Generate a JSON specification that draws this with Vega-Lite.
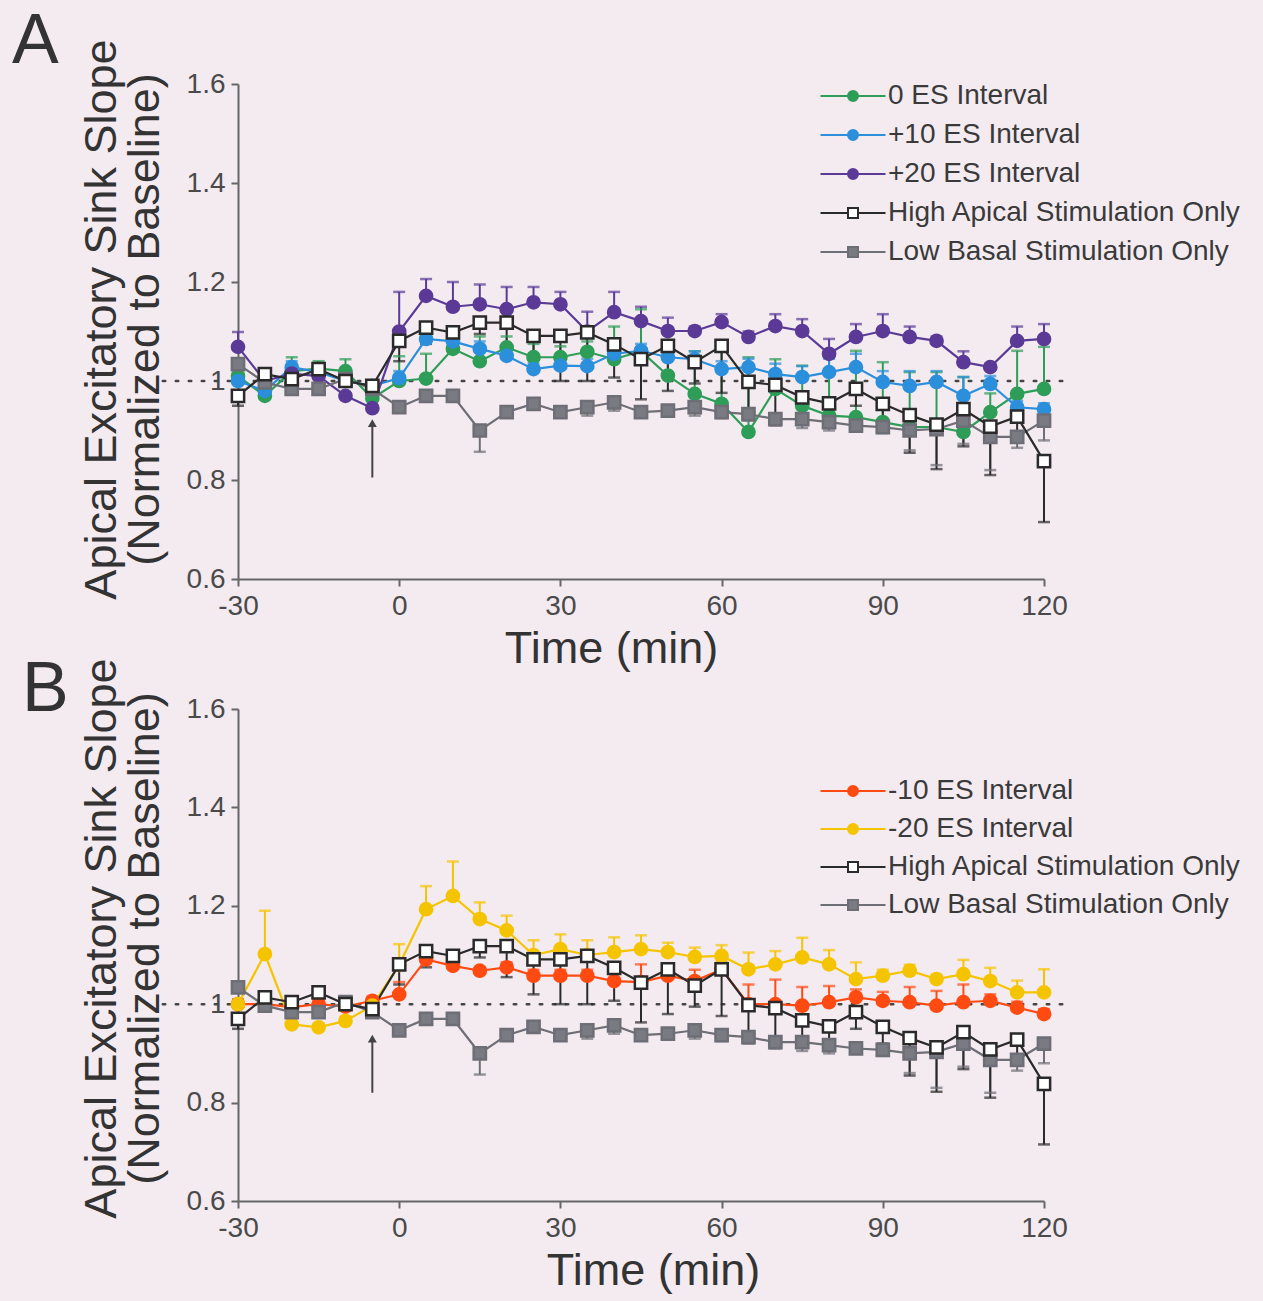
{
"$schema": "https://vega.github.io/schema/vega-lite/v6.json",
"background": "#f4ebf1",
"padding": {"left": 12, "top": 6, "right": 22, "bottom": 8},
"spacing": 130,
"bounds": "flush",
"config": {
  "font": "Liberation Sans",
  "view": {"stroke": null},
  "axis": {"domainColor": "#666666", "domainWidth": 2, "tickColor": "#666666", "tickWidth": 2, "tickSize": 7, "labelFont": "Liberation Sans", "labelFontSize": 28, "labelColor": "#4a4a4a", "labelFlush": false, "titleFont": "Liberation Sans", "titleFontSize": 45, "titleFontWeight": "normal", "titleColor": "#333333", "grid": false},
  "legend": {"orient": "none", "padding": 0, "labelFont": "Liberation Sans", "labelFontSize": 28, "labelColor": "#3a3a3a", "labelOffset": 21, "symbolSize": 100, "symbolStrokeWidth": 2, "labelLimit": 600}
},
"resolve": {"scale": {"shape": "independent", "fill": "independent", "stroke": "independent", "color": "independent"}, "legend": {"shape": "independent", "fill": "independent", "stroke": "independent", "color": "independent"}},
"datasets": {
"A": [
{"s":"0 ES Interval","t":-30,"v":1.01,"e":1.03},{"s":"0 ES Interval","t":-25,"v":0.97,"e":0.985},{"s":"0 ES Interval","t":-20,"v":1.02,"e":1.048},{"s":"0 ES Interval","t":-15,"v":1.025,"e":1.04},{"s":"0 ES Interval","t":-10,"v":1.02,"e":1.044},{"s":"0 ES Interval","t":-5,"v":0.965,"e":0.98},{"s":"0 ES Interval","t":0,"v":1.0,"e":1.05},{"s":"0 ES Interval","t":5,"v":1.005,"e":1.055},{"s":"0 ES Interval","t":10,"v":1.065,"e":1.1},{"s":"0 ES Interval","t":15,"v":1.04,"e":1.09},{"s":"0 ES Interval","t":20,"v":1.068,"e":1.09},{"s":"0 ES Interval","t":25,"v":1.048,"e":1.075},{"s":"0 ES Interval","t":30,"v":1.048,"e":1.07},{"s":"0 ES Interval","t":35,"v":1.059,"e":1.08},{"s":"0 ES Interval","t":40,"v":1.044,"e":1.11},{"s":"0 ES Interval","t":45,"v":1.06,"e":1.145},{"s":"0 ES Interval","t":50,"v":1.011,"e":1.05},{"s":"0 ES Interval","t":55,"v":0.974,"e":1.06},{"s":"0 ES Interval","t":60,"v":0.954,"e":1.06},{"s":"0 ES Interval","t":65,"v":0.897,"e":1.048},{"s":"0 ES Interval","t":70,"v":0.984,"e":1.044},{"s":"0 ES Interval","t":75,"v":0.95,"e":1.031},{"s":"0 ES Interval","t":80,"v":0.93,"e":1.061},{"s":"0 ES Interval","t":85,"v":0.927,"e":1.061},{"s":"0 ES Interval","t":90,"v":0.917,"e":1.038},{"s":"0 ES Interval","t":95,"v":0.907,"e":1.018},{"s":"0 ES Interval","t":100,"v":0.907,"e":1.018},{"s":"0 ES Interval","t":105,"v":0.897,"e":1.008},{"s":"0 ES Interval","t":110,"v":0.937,"e":0.975},{"s":"0 ES Interval","t":115,"v":0.974,"e":1.061},{"s":"0 ES Interval","t":120,"v":0.984,"e":1.069},
{"s":"+10 ES Interval","t":-30,"v":1.0,"e":1.01},{"s":"+10 ES Interval","t":-25,"v":0.98,"e":0.99},{"s":"+10 ES Interval","t":-20,"v":1.028,"e":1.04},{"s":"+10 ES Interval","t":-15,"v":1.018,"e":1.03},{"s":"+10 ES Interval","t":-10,"v":1.0,"e":1.01},{"s":"+10 ES Interval","t":-5,"v":0.99,"e":1.0},{"s":"+10 ES Interval","t":0,"v":1.006,"e":1.02},{"s":"+10 ES Interval","t":5,"v":1.085,"e":1.095},{"s":"+10 ES Interval","t":10,"v":1.08,"e":1.09},{"s":"+10 ES Interval","t":15,"v":1.065,"e":1.08},{"s":"+10 ES Interval","t":20,"v":1.051,"e":1.065},{"s":"+10 ES Interval","t":25,"v":1.024,"e":1.035},{"s":"+10 ES Interval","t":30,"v":1.031,"e":1.045},{"s":"+10 ES Interval","t":35,"v":1.03,"e":1.045},{"s":"+10 ES Interval","t":40,"v":1.055,"e":1.07},{"s":"+10 ES Interval","t":45,"v":1.061,"e":1.075},{"s":"+10 ES Interval","t":50,"v":1.048,"e":1.065},{"s":"+10 ES Interval","t":55,"v":1.044,"e":1.06},{"s":"+10 ES Interval","t":60,"v":1.024,"e":1.04},{"s":"+10 ES Interval","t":65,"v":1.028,"e":1.045},{"s":"+10 ES Interval","t":70,"v":1.014,"e":1.035},{"s":"+10 ES Interval","t":75,"v":1.008,"e":1.03},{"s":"+10 ES Interval","t":80,"v":1.018,"e":1.045},{"s":"+10 ES Interval","t":85,"v":1.028,"e":1.055},{"s":"+10 ES Interval","t":90,"v":0.998,"e":1.02},{"s":"+10 ES Interval","t":95,"v":0.99,"e":1.02},{"s":"+10 ES Interval","t":100,"v":0.998,"e":1.02},{"s":"+10 ES Interval","t":105,"v":0.97,"e":1.008},{"s":"+10 ES Interval","t":110,"v":0.994,"e":1.01},{"s":"+10 ES Interval","t":115,"v":0.947,"e":0.96},{"s":"+10 ES Interval","t":120,"v":0.943,"e":0.955},
{"s":"+20 ES Interval","t":-30,"v":1.069,"e":1.099},{"s":"+20 ES Interval","t":-25,"v":1.0,"e":1.005},{"s":"+20 ES Interval","t":-20,"v":1.015,"e":1.02},{"s":"+20 ES Interval","t":-15,"v":1.01,"e":1.015},{"s":"+20 ES Interval","t":-10,"v":0.97,"e":0.975},{"s":"+20 ES Interval","t":-5,"v":0.945,"e":0.95},{"s":"+20 ES Interval","t":0,"v":1.1,"e":1.18},{"s":"+20 ES Interval","t":5,"v":1.172,"e":1.206},{"s":"+20 ES Interval","t":10,"v":1.15,"e":1.2},{"s":"+20 ES Interval","t":15,"v":1.155,"e":1.195},{"s":"+20 ES Interval","t":20,"v":1.145,"e":1.19},{"s":"+20 ES Interval","t":25,"v":1.159,"e":1.19},{"s":"+20 ES Interval","t":30,"v":1.155,"e":1.18},{"s":"+20 ES Interval","t":35,"v":1.1,"e":1.14},{"s":"+20 ES Interval","t":40,"v":1.139,"e":1.18},{"s":"+20 ES Interval","t":45,"v":1.121,"e":1.15},{"s":"+20 ES Interval","t":50,"v":1.101,"e":1.128},{"s":"+20 ES Interval","t":55,"v":1.101,"e":1.11},{"s":"+20 ES Interval","t":60,"v":1.119,"e":1.135},{"s":"+20 ES Interval","t":65,"v":1.089,"e":1.1},{"s":"+20 ES Interval","t":70,"v":1.111,"e":1.135},{"s":"+20 ES Interval","t":75,"v":1.101,"e":1.125},{"s":"+20 ES Interval","t":80,"v":1.055,"e":1.085},{"s":"+20 ES Interval","t":85,"v":1.089,"e":1.115},{"s":"+20 ES Interval","t":90,"v":1.101,"e":1.135},{"s":"+20 ES Interval","t":95,"v":1.089,"e":1.11},{"s":"+20 ES Interval","t":100,"v":1.081,"e":1.09},{"s":"+20 ES Interval","t":105,"v":1.038,"e":1.06},{"s":"+20 ES Interval","t":110,"v":1.028,"e":1.035},{"s":"+20 ES Interval","t":115,"v":1.081,"e":1.11},{"s":"+20 ES Interval","t":120,"v":1.085,"e":1.115},
{"s":"Low Basal Stimulation Only","t":-30,"v":1.034,"e":1.03},{"s":"Low Basal Stimulation Only","t":-25,"v":0.997,"e":0.99},{"s":"Low Basal Stimulation Only","t":-20,"v":0.984,"e":0.98},{"s":"Low Basal Stimulation Only","t":-15,"v":0.984,"e":0.98},{"s":"Low Basal Stimulation Only","t":-10,"v":1.004,"e":1.0},{"s":"Low Basal Stimulation Only","t":-5,"v":0.984,"e":0.975},{"s":"Low Basal Stimulation Only","t":0,"v":0.947,"e":0.94},{"s":"Low Basal Stimulation Only","t":5,"v":0.97,"e":0.965},{"s":"Low Basal Stimulation Only","t":10,"v":0.97,"e":0.965},{"s":"Low Basal Stimulation Only","t":15,"v":0.9,"e":0.857},{"s":"Low Basal Stimulation Only","t":20,"v":0.937,"e":0.93},{"s":"Low Basal Stimulation Only","t":25,"v":0.954,"e":0.945},{"s":"Low Basal Stimulation Only","t":30,"v":0.937,"e":0.93},{"s":"Low Basal Stimulation Only","t":35,"v":0.947,"e":0.93},{"s":"Low Basal Stimulation Only","t":40,"v":0.957,"e":0.94},{"s":"Low Basal Stimulation Only","t":45,"v":0.937,"e":0.93},{"s":"Low Basal Stimulation Only","t":50,"v":0.94,"e":0.93},{"s":"Low Basal Stimulation Only","t":55,"v":0.947,"e":0.93},{"s":"Low Basal Stimulation Only","t":60,"v":0.937,"e":0.925},{"s":"Low Basal Stimulation Only","t":65,"v":0.933,"e":0.92},{"s":"Low Basal Stimulation Only","t":70,"v":0.923,"e":0.91},{"s":"Low Basal Stimulation Only","t":75,"v":0.923,"e":0.905},{"s":"Low Basal Stimulation Only","t":80,"v":0.917,"e":0.9},{"s":"Low Basal Stimulation Only","t":85,"v":0.91,"e":0.9},{"s":"Low Basal Stimulation Only","t":90,"v":0.907,"e":0.895},{"s":"Low Basal Stimulation Only","t":95,"v":0.9,"e":0.86},{"s":"Low Basal Stimulation Only","t":100,"v":0.903,"e":0.83},{"s":"Low Basal Stimulation Only","t":105,"v":0.92,"e":0.873},{"s":"Low Basal Stimulation Only","t":110,"v":0.887,"e":0.82},{"s":"Low Basal Stimulation Only","t":115,"v":0.887,"e":0.865},{"s":"Low Basal Stimulation Only","t":120,"v":0.92,"e":0.88},
{"s":"High Apical Stimulation Only","t":-30,"v":0.97,"e":0.95},{"s":"High Apical Stimulation Only","t":-25,"v":1.014,"e":1.005},{"s":"High Apical Stimulation Only","t":-20,"v":1.004,"e":0.995},{"s":"High Apical Stimulation Only","t":-15,"v":1.024,"e":1.015},{"s":"High Apical Stimulation Only","t":-10,"v":1.0,"e":0.99},{"s":"High Apical Stimulation Only","t":-5,"v":0.99,"e":0.98},{"s":"High Apical Stimulation Only","t":0,"v":1.081,"e":1.04},{"s":"High Apical Stimulation Only","t":5,"v":1.108,"e":1.075},{"s":"High Apical Stimulation Only","t":10,"v":1.098,"e":1.08},{"s":"High Apical Stimulation Only","t":15,"v":1.118,"e":1.095},{"s":"High Apical Stimulation Only","t":20,"v":1.118,"e":1.055},{"s":"High Apical Stimulation Only","t":25,"v":1.091,"e":1.02},{"s":"High Apical Stimulation Only","t":30,"v":1.091,"e":1.0},{"s":"High Apical Stimulation Only","t":35,"v":1.098,"e":1.0},{"s":"High Apical Stimulation Only","t":40,"v":1.074,"e":1.007},{"s":"High Apical Stimulation Only","t":45,"v":1.044,"e":0.963},{"s":"High Apical Stimulation Only","t":50,"v":1.071,"e":0.98},{"s":"High Apical Stimulation Only","t":55,"v":1.038,"e":0.995},{"s":"High Apical Stimulation Only","t":60,"v":1.071,"e":0.976},{"s":"High Apical Stimulation Only","t":65,"v":0.998,"e":0.93},{"s":"High Apical Stimulation Only","t":70,"v":0.992,"e":0.915},{"s":"High Apical Stimulation Only","t":75,"v":0.967,"e":0.93},{"s":"High Apical Stimulation Only","t":80,"v":0.955,"e":0.92},{"s":"High Apical Stimulation Only","t":85,"v":0.984,"e":0.95},{"s":"High Apical Stimulation Only","t":90,"v":0.954,"e":0.92},{"s":"High Apical Stimulation Only","t":95,"v":0.931,"e":0.855},{"s":"High Apical Stimulation Only","t":100,"v":0.912,"e":0.822},{"s":"High Apical Stimulation Only","t":105,"v":0.943,"e":0.868},{"s":"High Apical Stimulation Only","t":110,"v":0.908,"e":0.81},{"s":"High Apical Stimulation Only","t":115,"v":0.928,"e":0.895},{"s":"High Apical Stimulation Only","t":120,"v":0.838,"e":0.715}
],
"B": [
{"s":"-10 ES Interval","t":-30,"v":1.0,"e":1.01},{"s":"-10 ES Interval","t":-25,"v":1.0,"e":1.01},{"s":"-10 ES Interval","t":-20,"v":0.994,"e":1.0},{"s":"-10 ES Interval","t":-15,"v":1.0,"e":1.01},{"s":"-10 ES Interval","t":-10,"v":0.995,"e":1.0},{"s":"-10 ES Interval","t":-5,"v":1.007,"e":1.015},{"s":"-10 ES Interval","t":0,"v":1.02,"e":1.045},{"s":"-10 ES Interval","t":5,"v":1.091,"e":1.1},{"s":"-10 ES Interval","t":10,"v":1.078,"e":1.085},{"s":"-10 ES Interval","t":15,"v":1.068,"e":1.075},{"s":"-10 ES Interval","t":20,"v":1.075,"e":1.085},{"s":"-10 ES Interval","t":25,"v":1.058,"e":1.07},{"s":"-10 ES Interval","t":30,"v":1.058,"e":1.07},{"s":"-10 ES Interval","t":35,"v":1.058,"e":1.07},{"s":"-10 ES Interval","t":40,"v":1.047,"e":1.065},{"s":"-10 ES Interval","t":45,"v":1.045,"e":1.081},{"s":"-10 ES Interval","t":50,"v":1.058,"e":1.075},{"s":"-10 ES Interval","t":55,"v":1.047,"e":1.07},{"s":"-10 ES Interval","t":60,"v":1.071,"e":1.085},{"s":"-10 ES Interval","t":65,"v":1.0,"e":1.04},{"s":"-10 ES Interval","t":70,"v":1.0,"e":1.05},{"s":"-10 ES Interval","t":75,"v":0.997,"e":1.035},{"s":"-10 ES Interval","t":80,"v":1.004,"e":1.037},{"s":"-10 ES Interval","t":85,"v":1.014,"e":1.03},{"s":"-10 ES Interval","t":90,"v":1.007,"e":1.025},{"s":"-10 ES Interval","t":95,"v":1.004,"e":1.035},{"s":"-10 ES Interval","t":100,"v":0.997,"e":1.027},{"s":"-10 ES Interval","t":105,"v":1.004,"e":1.04},{"s":"-10 ES Interval","t":110,"v":1.007,"e":1.02},{"s":"-10 ES Interval","t":115,"v":0.993,"e":1.005},{"s":"-10 ES Interval","t":120,"v":0.98,"e":0.99},
{"s":"-20 ES Interval","t":-30,"v":1.0,"e":1.005},{"s":"-20 ES Interval","t":-25,"v":1.102,"e":1.19},{"s":"-20 ES Interval","t":-20,"v":0.959,"e":0.965},{"s":"-20 ES Interval","t":-15,"v":0.953,"e":0.96},{"s":"-20 ES Interval","t":-10,"v":0.966,"e":0.975},{"s":"-20 ES Interval","t":-5,"v":0.997,"e":1.0},{"s":"-20 ES Interval","t":0,"v":1.08,"e":1.122},{"s":"-20 ES Interval","t":5,"v":1.193,"e":1.24},{"s":"-20 ES Interval","t":10,"v":1.22,"e":1.29},{"s":"-20 ES Interval","t":15,"v":1.173,"e":1.207},{"s":"-20 ES Interval","t":20,"v":1.15,"e":1.18},{"s":"-20 ES Interval","t":25,"v":1.1,"e":1.13},{"s":"-20 ES Interval","t":30,"v":1.112,"e":1.142},{"s":"-20 ES Interval","t":35,"v":1.1,"e":1.13},{"s":"-20 ES Interval","t":40,"v":1.106,"e":1.136},{"s":"-20 ES Interval","t":45,"v":1.112,"e":1.14},{"s":"-20 ES Interval","t":50,"v":1.106,"e":1.125},{"s":"-20 ES Interval","t":55,"v":1.096,"e":1.115},{"s":"-20 ES Interval","t":60,"v":1.098,"e":1.12},{"s":"-20 ES Interval","t":65,"v":1.071,"e":1.105},{"s":"-20 ES Interval","t":70,"v":1.081,"e":1.108},{"s":"-20 ES Interval","t":75,"v":1.095,"e":1.135},{"s":"-20 ES Interval","t":80,"v":1.081,"e":1.11},{"s":"-20 ES Interval","t":85,"v":1.051,"e":1.085},{"s":"-20 ES Interval","t":90,"v":1.058,"e":1.07},{"s":"-20 ES Interval","t":95,"v":1.068,"e":1.08},{"s":"-20 ES Interval","t":100,"v":1.051,"e":1.06},{"s":"-20 ES Interval","t":105,"v":1.061,"e":1.09},{"s":"-20 ES Interval","t":110,"v":1.047,"e":1.074},{"s":"-20 ES Interval","t":115,"v":1.024,"e":1.048},{"s":"-20 ES Interval","t":120,"v":1.024,"e":1.071},
{"s":"Low Basal Stimulation Only","t":-30,"v":1.034,"e":1.03},{"s":"Low Basal Stimulation Only","t":-25,"v":0.997,"e":0.99},{"s":"Low Basal Stimulation Only","t":-20,"v":0.984,"e":0.98},{"s":"Low Basal Stimulation Only","t":-15,"v":0.984,"e":0.98},{"s":"Low Basal Stimulation Only","t":-10,"v":1.004,"e":1.0},{"s":"Low Basal Stimulation Only","t":-5,"v":0.984,"e":0.975},{"s":"Low Basal Stimulation Only","t":0,"v":0.947,"e":0.94},{"s":"Low Basal Stimulation Only","t":5,"v":0.97,"e":0.965},{"s":"Low Basal Stimulation Only","t":10,"v":0.97,"e":0.965},{"s":"Low Basal Stimulation Only","t":15,"v":0.9,"e":0.857},{"s":"Low Basal Stimulation Only","t":20,"v":0.937,"e":0.93},{"s":"Low Basal Stimulation Only","t":25,"v":0.954,"e":0.945},{"s":"Low Basal Stimulation Only","t":30,"v":0.937,"e":0.93},{"s":"Low Basal Stimulation Only","t":35,"v":0.947,"e":0.93},{"s":"Low Basal Stimulation Only","t":40,"v":0.957,"e":0.94},{"s":"Low Basal Stimulation Only","t":45,"v":0.937,"e":0.93},{"s":"Low Basal Stimulation Only","t":50,"v":0.94,"e":0.93},{"s":"Low Basal Stimulation Only","t":55,"v":0.947,"e":0.93},{"s":"Low Basal Stimulation Only","t":60,"v":0.937,"e":0.925},{"s":"Low Basal Stimulation Only","t":65,"v":0.933,"e":0.92},{"s":"Low Basal Stimulation Only","t":70,"v":0.923,"e":0.91},{"s":"Low Basal Stimulation Only","t":75,"v":0.923,"e":0.905},{"s":"Low Basal Stimulation Only","t":80,"v":0.917,"e":0.9},{"s":"Low Basal Stimulation Only","t":85,"v":0.91,"e":0.9},{"s":"Low Basal Stimulation Only","t":90,"v":0.907,"e":0.895},{"s":"Low Basal Stimulation Only","t":95,"v":0.9,"e":0.86},{"s":"Low Basal Stimulation Only","t":100,"v":0.903,"e":0.83},{"s":"Low Basal Stimulation Only","t":105,"v":0.92,"e":0.873},{"s":"Low Basal Stimulation Only","t":110,"v":0.887,"e":0.82},{"s":"Low Basal Stimulation Only","t":115,"v":0.887,"e":0.865},{"s":"Low Basal Stimulation Only","t":120,"v":0.92,"e":0.88},
{"s":"High Apical Stimulation Only","t":-30,"v":0.97,"e":0.95},{"s":"High Apical Stimulation Only","t":-25,"v":1.014,"e":1.005},{"s":"High Apical Stimulation Only","t":-20,"v":1.004,"e":0.995},{"s":"High Apical Stimulation Only","t":-15,"v":1.024,"e":1.015},{"s":"High Apical Stimulation Only","t":-10,"v":1.0,"e":0.99},{"s":"High Apical Stimulation Only","t":-5,"v":0.99,"e":0.98},{"s":"High Apical Stimulation Only","t":0,"v":1.081,"e":1.04},{"s":"High Apical Stimulation Only","t":5,"v":1.108,"e":1.075},{"s":"High Apical Stimulation Only","t":10,"v":1.098,"e":1.08},{"s":"High Apical Stimulation Only","t":15,"v":1.118,"e":1.095},{"s":"High Apical Stimulation Only","t":20,"v":1.118,"e":1.055},{"s":"High Apical Stimulation Only","t":25,"v":1.091,"e":1.02},{"s":"High Apical Stimulation Only","t":30,"v":1.091,"e":1.0},{"s":"High Apical Stimulation Only","t":35,"v":1.098,"e":1.0},{"s":"High Apical Stimulation Only","t":40,"v":1.074,"e":1.007},{"s":"High Apical Stimulation Only","t":45,"v":1.044,"e":0.963},{"s":"High Apical Stimulation Only","t":50,"v":1.071,"e":0.98},{"s":"High Apical Stimulation Only","t":55,"v":1.038,"e":0.995},{"s":"High Apical Stimulation Only","t":60,"v":1.071,"e":0.976},{"s":"High Apical Stimulation Only","t":65,"v":0.998,"e":0.93},{"s":"High Apical Stimulation Only","t":70,"v":0.992,"e":0.915},{"s":"High Apical Stimulation Only","t":75,"v":0.967,"e":0.93},{"s":"High Apical Stimulation Only","t":80,"v":0.955,"e":0.92},{"s":"High Apical Stimulation Only","t":85,"v":0.984,"e":0.95},{"s":"High Apical Stimulation Only","t":90,"v":0.954,"e":0.92},{"s":"High Apical Stimulation Only","t":95,"v":0.931,"e":0.855},{"s":"High Apical Stimulation Only","t":100,"v":0.912,"e":0.822},{"s":"High Apical Stimulation Only","t":105,"v":0.943,"e":0.868},{"s":"High Apical Stimulation Only","t":110,"v":0.908,"e":0.81},{"s":"High Apical Stimulation Only","t":115,"v":0.928,"e":0.895},{"s":"High Apical Stimulation Only","t":120,"v":0.838,"e":0.715}
]
},
"vconcat": [
{
 "width": 806, "height": 495,
 "title": {"text": "A", "anchor": "start", "frame": "group", "fontSize": 70, "fontWeight": "normal", "color": "#333333", "font": "Liberation Sans", "dx": -226, "dy": 39, "offset": 0},
 "data": {"name": "A"},
 "layer": [
  {"data": {"values": [{}]}, "mark": {"type": "rule", "strokeDash": [2.5, 10.5], "strokeWidth": 2.5, "color": "#444444", "strokeCap": "round"},
   "encoding": {"x": {"datum": -44, "type": "quantitative", "scale": {"domain": [-30, 120], "nice": false, "zero": false}}, "x2": {"datum": 125}, "y": {"datum": 1, "type": "quantitative", "scale": {"domain": [0.6, 1.6], "nice": false, "zero": false}}}},
  {"data": {"values": [{}]}, "mark": {"type": "rule", "strokeWidth": 2, "color": "#444444"},
   "encoding": {"x": {"datum": -5, "type": "quantitative"}, "y": {"datum": 0.805, "type": "quantitative"}, "y2": {"datum": 0.91}}},
  {"data": {"values": [{}]}, "mark": {"type": "point", "shape": "triangle-up", "filled": true, "size": 80, "color": "#444444", "opacity": 1},
   "encoding": {"x": {"datum": -5, "type": "quantitative"}, "y": {"datum": 0.915, "type": "quantitative"}}},
  {"mark": {"type": "rule", "strokeWidth": 2},
   "encoding": {"x": {"field": "t", "type": "quantitative"}, "y": {"field": "v", "type": "quantitative"}, "y2": {"field": "e"},
    "color": {"field": "s", "type": "nominal", "legend": null, "scale": {"domain": ["+10 ES Interval", "+20 ES Interval", "0 ES Interval", "High Apical Stimulation Only", "Low Basal Stimulation Only"], "range": ["#2b8fdc", "#5a3a96", "#2e9d58", "#2a2a2a", "#6e6e76"]}}}},
  {"mark": {"type": "tick", "orient": "horizontal", "size": 12, "thickness": 2.5},
   "encoding": {"x": {"field": "t", "type": "quantitative"}, "y": {"field": "e", "type": "quantitative"}, "color": {"field": "s", "type": "nominal", "legend": null}}},
  {"mark": {"type": "line", "strokeWidth": 2.2},
   "encoding": {
    "x": {"field": "t", "type": "quantitative", "axis": {"values": [-30, 0, 30, 60, 90, 120], "labelExpr": "datum.value", "title": "Time (min)", "labelPadding": 6, "titlePadding": 6, "titleX": 373}},
    "y": {"field": "v", "type": "quantitative", "axis": {"values": [0.6, 0.8, 1, 1.2, 1.4, 1.6], "labelExpr": "datum.value", "title": ["Apical Excitatory Sink Slope", "(Normalized to Baseline)"], "titleLineHeight": 43, "labelPadding": 6, "titlePadding": 19, "titleY": 235}},
    "color": {"field": "s", "type": "nominal", "legend": null}}},
  {"transform": [{"filter": {"field": "s", "oneOf": ["0 ES Interval", "+10 ES Interval", "+20 ES Interval"]}}],
   "mark": {"type": "point", "filled": true, "size": 150, "strokeWidth": 2.5, "opacity": 1},
   "encoding": {
    "x": {"field": "t", "type": "quantitative"}, "y": {"field": "v", "type": "quantitative"},
    "fill": {"field": "s", "type": "nominal", "scale": {"domain": ["0 ES Interval", "+10 ES Interval", "+20 ES Interval", "High Apical Stimulation Only", "Low Basal Stimulation Only"], "range": ["#2e9d58", "#2b8fdc", "#5a3a96", "#ffffff", "#7a7a82"]}},
    "stroke": {"field": "s", "type": "nominal", "scale": {"domain": ["0 ES Interval", "+10 ES Interval", "+20 ES Interval", "High Apical Stimulation Only", "Low Basal Stimulation Only"], "range": ["#2e9d58", "#2b8fdc", "#5a3a96", "#2a2a2a", "#6e6e76"]}}}},
  {"transform": [{"filter": {"field": "s", "oneOf": ["High Apical Stimulation Only", "Low Basal Stimulation Only"]}}],
   "mark": {"type": "point", "shape": "square", "filled": true, "size": 150, "strokeWidth": 2.5, "opacity": 1},
   "encoding": {
    "x": {"field": "t", "type": "quantitative"}, "y": {"field": "v", "type": "quantitative"},
    "fill": {"field": "s", "type": "nominal"},
    "stroke": {"field": "s", "type": "nominal"}}},
  {"transform": [{"filter": "false"}],
   "mark": {"type": "point", "filled": true, "size": 100, "strokeWidth": 2, "opacity": 1},
   "encoding": {
    "x": {"field": "t", "type": "quantitative"}, "y": {"field": "v", "type": "quantitative"},
    "fill": {"field": "s", "type": "nominal"},
    "stroke": {"field": "s", "type": "nominal"},
    "shape": {"field": "s", "type": "nominal",
     "scale": {"domain": ["0 ES Interval", "+10 ES Interval", "+20 ES Interval", "High Apical Stimulation Only", "Low Basal Stimulation Only"], "range": ["M-6.5,0H-1M1,0H6.5M-1,0A1,1,0,1,1,1,0A1,1,0,1,1,-1,0Z", "M-6.5,0H-1M1,0H6.5M-1,0A1,1,0,1,1,1,0A1,1,0,1,1,-1,0Z", "M-6.5,0H-1M1,0H6.5M-1,0A1,1,0,1,1,1,0A1,1,0,1,1,-1,0Z", "M-6.5,0H-1M1,0H6.5M-1,-1H1V1H-1Z", "M-6.5,0H-1M1,0H6.5M-1,-1H1V1H-1Z"]},
     "legend": {"title": null, "legendX": 601, "legendY": -2, "rowPadding": 11}}}}
 ]
},
{
 "width": 806, "height": 492,
 "title": {"text": "B", "anchor": "start", "frame": "group", "fontSize": 70, "fontWeight": "normal", "color": "#333333", "font": "Liberation Sans", "dx": -216, "dy": 68, "offset": 0},
 "data": {"name": "B"},
 "layer": [
  {"data": {"values": [{}]}, "mark": {"type": "rule", "strokeDash": [2.5, 10.5], "strokeWidth": 2.5, "color": "#444444", "strokeCap": "round"},
   "encoding": {"x": {"datum": -44, "type": "quantitative", "scale": {"domain": [-30, 120], "nice": false, "zero": false}}, "x2": {"datum": 125}, "y": {"datum": 1, "type": "quantitative", "scale": {"domain": [0.6, 1.6], "nice": false, "zero": false}}}},
  {"data": {"values": [{}]}, "mark": {"type": "rule", "strokeWidth": 2, "color": "#444444"},
   "encoding": {"x": {"datum": -5, "type": "quantitative"}, "y": {"datum": 0.82, "type": "quantitative"}, "y2": {"datum": 0.925}}},
  {"data": {"values": [{}]}, "mark": {"type": "point", "shape": "triangle-up", "filled": true, "size": 80, "color": "#444444", "opacity": 1},
   "encoding": {"x": {"datum": -5, "type": "quantitative"}, "y": {"datum": 0.93, "type": "quantitative"}}},
  {"mark": {"type": "rule", "strokeWidth": 2},
   "encoding": {"x": {"field": "t", "type": "quantitative"}, "y": {"field": "v", "type": "quantitative"}, "y2": {"field": "e"},
    "color": {"field": "s", "type": "nominal", "legend": null, "scale": {"domain": ["High Apical Stimulation Only", "Low Basal Stimulation Only", "-10 ES Interval", "-20 ES Interval"], "range": ["#2a2a2a", "#6e6e76", "#ff4a12", "#f5c400"]}}}},
  {"mark": {"type": "tick", "orient": "horizontal", "size": 12, "thickness": 2.5},
   "encoding": {"x": {"field": "t", "type": "quantitative"}, "y": {"field": "e", "type": "quantitative"}, "color": {"field": "s", "type": "nominal", "legend": null}}},
  {"mark": {"type": "line", "strokeWidth": 2.2},
   "encoding": {
    "x": {"field": "t", "type": "quantitative", "axis": {"values": [-30, 0, 30, 60, 90, 120], "labelExpr": "datum.value", "title": "Time (min)", "labelPadding": 6, "titlePadding": 6, "titleX": 415}},
    "y": {"field": "v", "type": "quantitative", "axis": {"values": [0.6, 0.8, 1, 1.2, 1.4, 1.6], "labelExpr": "datum.value", "title": ["Apical Excitatory Sink Slope", "(Normalized to Baseline)"], "titleLineHeight": 43, "labelPadding": 6, "titlePadding": 19, "titleY": 229}},
    "color": {"field": "s", "type": "nominal", "legend": null}}},
  {"transform": [{"filter": {"field": "s", "oneOf": ["-10 ES Interval", "-20 ES Interval"]}}],
   "mark": {"type": "point", "filled": true, "size": 150, "strokeWidth": 2.5, "opacity": 1},
   "encoding": {
    "x": {"field": "t", "type": "quantitative"}, "y": {"field": "v", "type": "quantitative"},
    "fill": {"field": "s", "type": "nominal", "scale": {"domain": ["-10 ES Interval", "-20 ES Interval", "High Apical Stimulation Only", "Low Basal Stimulation Only"], "range": ["#ff4a12", "#f5c400", "#ffffff", "#7a7a82"]}},
    "stroke": {"field": "s", "type": "nominal", "scale": {"domain": ["-10 ES Interval", "-20 ES Interval", "High Apical Stimulation Only", "Low Basal Stimulation Only"], "range": ["#ff4a12", "#f5c400", "#2a2a2a", "#6e6e76"]}}}},
  {"transform": [{"filter": {"field": "s", "oneOf": ["High Apical Stimulation Only", "Low Basal Stimulation Only"]}}],
   "mark": {"type": "point", "shape": "square", "filled": true, "size": 150, "strokeWidth": 2.5, "opacity": 1},
   "encoding": {
    "x": {"field": "t", "type": "quantitative"}, "y": {"field": "v", "type": "quantitative"},
    "fill": {"field": "s", "type": "nominal"},
    "stroke": {"field": "s", "type": "nominal"}}},
  {"transform": [{"filter": "false"}],
   "mark": {"type": "point", "filled": true, "size": 100, "strokeWidth": 2, "opacity": 1},
   "encoding": {
    "x": {"field": "t", "type": "quantitative"}, "y": {"field": "v", "type": "quantitative"},
    "fill": {"field": "s", "type": "nominal"},
    "stroke": {"field": "s", "type": "nominal"},
    "shape": {"field": "s", "type": "nominal",
     "scale": {"domain": ["-10 ES Interval", "-20 ES Interval", "High Apical Stimulation Only", "Low Basal Stimulation Only"], "range": ["M-6.5,0H-1M1,0H6.5M-1,0A1,1,0,1,1,1,0A1,1,0,1,1,-1,0Z", "M-6.5,0H-1M1,0H6.5M-1,0A1,1,0,1,1,1,0A1,1,0,1,1,-1,0Z", "M-6.5,0H-1M1,0H6.5M-1,-1H1V1H-1Z", "M-6.5,0H-1M1,0H6.5M-1,-1H1V1H-1Z"]},
     "legend": {"title": null, "legendX": 601, "legendY": 68, "rowPadding": 10}}}}
 ]
}
]
}
